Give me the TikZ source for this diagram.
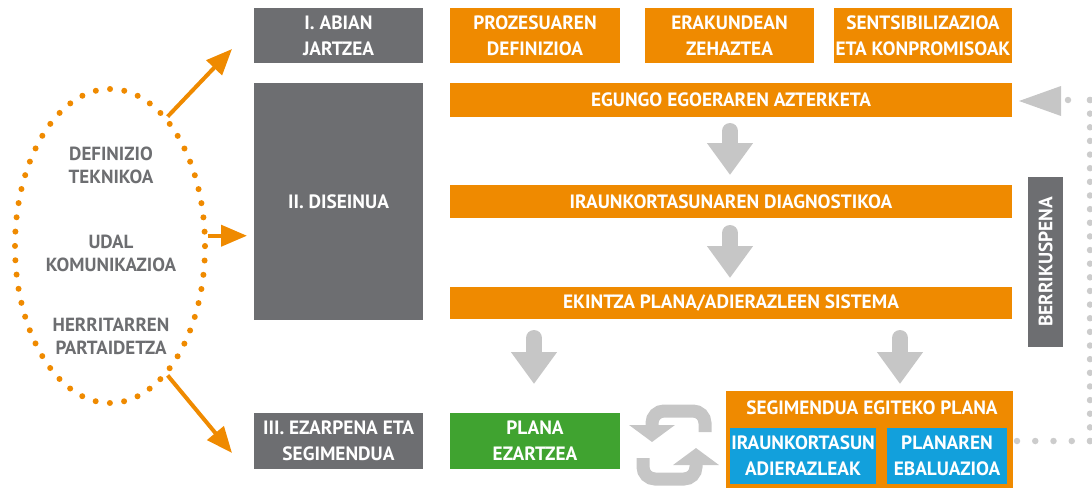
\documentclass[tikz,border=0pt]{standalone}
\usepackage{fontspec}
\setmainfont{PT Sans}
\usetikzlibrary{arrows.meta,shapes.geometric,calc}
\definecolor{org}{RGB}{239,138,0}
\definecolor{dgray}{RGB}{109,110,113}
\definecolor{grn}{RGB}{64,163,48}
\definecolor{blu}{RGB}{18,160,220}
\definecolor{lgray}{RGB}{198,198,198}
\definecolor{dotgray}{RGB}{204,204,204}
\begin{document}
\begin{tikzpicture}[x=1pt,y=-1pt,
  box/.style={inner sep=0pt, outer sep=0pt, align=center, text=white,
    font=\fontsize{19.3}{26}\selectfont\bfseries},
  obox/.style={box, fill=org},
  gbox/.style={box, fill=dgray},
  greenbox/.style={box, fill=grn},
  bbox/.style={box, fill=blu},
  elltext/.style={align=center, text=dgray, inner sep=0pt,
    font=\fontsize{19}{23}\selectfont\bfseries},
  oarrow/.style={draw=org, line width=4pt, -{Triangle[length=26pt,width=21pt]}},
  garrow/.style={draw=lgray, line width=16pt, line cap=round, -{Triangle[length=32pt,width=44pt]}},
  cycarrow/.style={draw=lgray, line width=13pt, rounded corners=12pt, -{Triangle[length=17pt,width=45pt]}},
  gdots/.style={draw=dotgray, line width=6.5pt, line cap=round},
]
\useasboundingbox (0,0) rectangle (1092,488);

% left dotted ellipse
\node[ellipse, draw=org, line width=6pt, line cap=round, dash pattern=on 0pt off 14.35pt,
  minimum width=190pt, minimum height=314pt, inner sep=0pt] (ell) at (110,246) {};
\node[elltext] (def) at (111,165) {DEFINIZIO\\TEKNIKOA};
\node[elltext] (udal) at (111,253) {UDAL\\KOMUNIKAZIOA};
\node[elltext] (herri) at (111,336) {HERRITARREN\\PARTAIDETZA};

% phase boxes
\node[gbox, minimum width=169pt, minimum height=55pt] (i) at (338.5,35.5) {I. ABIAN\\JARTZEA};
\node[gbox, minimum width=169pt, minimum height=237pt] (ii) at (338.5,201.5) {II. DISEINUA};
\node[gbox, minimum width=169pt, minimum height=56pt] (iii) at (338.5,441) {III. EZARPENA ETA\\SEGIMENDUA};

% top row
\node[obox, minimum width=170pt, minimum height=55pt] (pd) at (535,35.5) {PROZESUAREN\\DEFINIZIOA};
\node[obox, minimum width=169pt, minimum height=55pt] (er) at (729.5,35.5) {ERAKUNDEAN\\ZEHAZTEA};
\node[obox, minimum width=178pt, minimum height=55pt] (se) at (923,35.5) {SENTSIBILIZAZIOA\\ETA KONPROMISOAK};

% bars
\node[obox, minimum width=562pt, minimum height=34pt] (eg) at (731,100) {EGUNGO EGOERAREN AZTERKETA};
\node[obox, minimum width=562pt, minimum height=33pt] (ir) at (731,201.5) {IRAUNKORTASUNAREN DIAGNOSTIKOA};
\node[obox, minimum width=562pt, minimum height=32pt] (ek) at (731,303) {EKINTZA PLANA/ADIERAZLEEN SISTEMA};

% bottom row
\node[greenbox, minimum width=170pt, minimum height=56pt] (pl) at (535,441) {PLANA\\EZARTZEA};
\node[obox, minimum width=287pt, minimum height=97pt] (seg) at (869.5,439.5) {};
\node[box, inner sep=0pt] (segt) at (872,408) {SEGIMENDUA EGITEKO PLANA};
\node[bbox, minimum width=146pt, minimum height=56pt] (b1) at (803,456) {IRAUNKORTASUN\\ADIERAZLEAK};
\node[bbox, minimum width=120pt, minimum height=56pt] (b2) at (947,456) {PLANAREN\\EBALUAZIOA};

% review box
\node[gbox, rotate=90, minimum width=170pt, minimum height=35pt] (berri) at (1045.5,262) {BERRIKUSPENA};

% orange arrows
\draw[oarrow] (ell.66) -- ($(i.south west)+(-22,-14)$);
\draw[oarrow] (ell.6) -- ($(ell.6 -| ii.west)+(-7,0)$);
\draw[oarrow] (ell.-66) -- ($(iii.north west)+(-22,40)$);

% grey block arrows
\draw[garrow] ($(eg.south)+(-1,14)$) -- ($(ir.north)+(-1,-10)$);
\draw[garrow] ($(ir.south)+(-1,15)$) -- ($(ek.north)+(-1,-9)$);
\draw[garrow] ($(ek.south -| pl.north)+(-1,19)$) -- ($(pl.north)+(-1,-29)$);
\draw[garrow] ($(ek.south)+(169,19)$) -- ($(seg.north)+(30.5,-7)$);

% cycle arrows between plan and monitoring
\draw[cycarrow] (705,432) -- (705,411) -- (652,411) -- (652,442);
\draw[cycarrow] (643,458) -- (643,479) -- (696,479) -- (696,448);

% review dotted loop
\coordinate (c1) at (1090,441);
\coordinate (c2) at (1090,100);
\draw[gdots, dash pattern=on 0pt off 18.25pt] (c1) -- ($(seg.east)+(4,1.5)$);
\draw[gdots, dash pattern=on 0pt off 13.64pt] (c1) -- (c2);
\draw[gdots, dash pattern=on 0pt off 22pt] (c2) -- (1068,100);
\coordinate (tip) at ($(eg.east)+(7,1)$);
\fill[lgray] (tip) -- ($(tip)+(42,-15)$) -- ($(tip)+(42,15)$) -- cycle;
\end{tikzpicture}
\end{document}
